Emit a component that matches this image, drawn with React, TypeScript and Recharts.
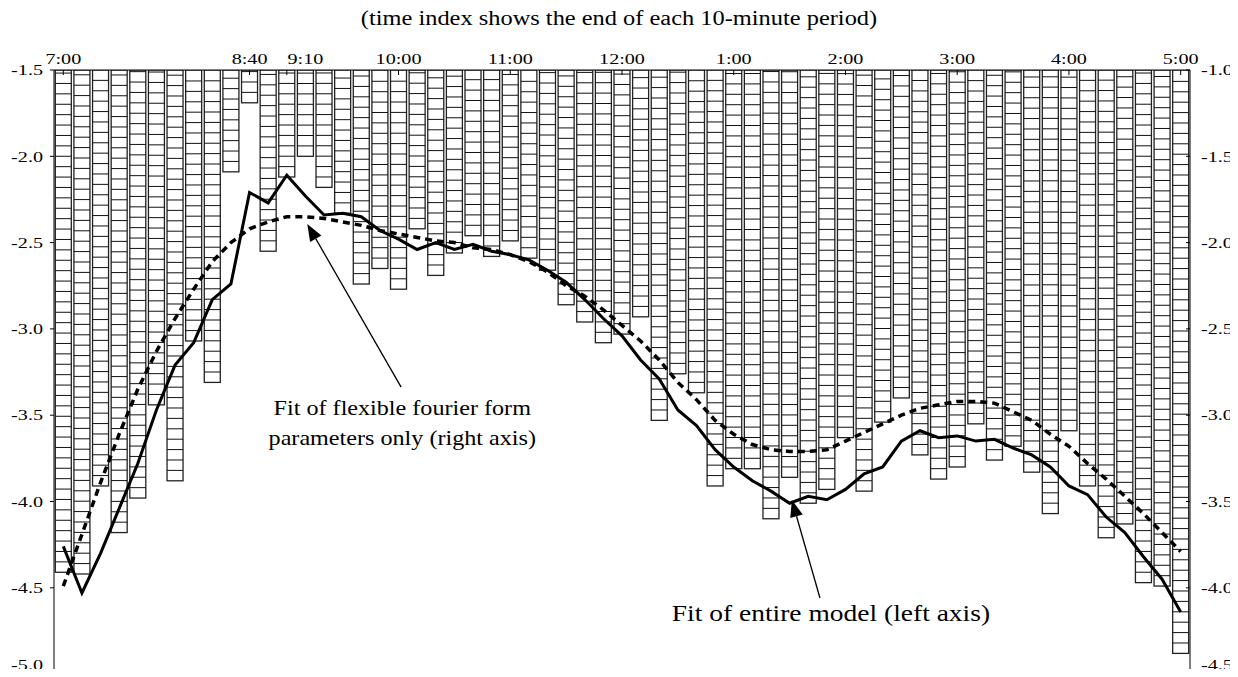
import React from 'react';
import { ComposedChart, Bar, Line, XAxis, YAxis, ReferenceLine, ReferenceDot } from 'recharts';

// bar values (left axis), one per 10-minute period, 7:00 .. 5:00
const bars = [
  -4.41, -4.42, -3.91, -4.18, -3.98, -3.44, -3.88, -3.07, -3.31, -2.09,
  -1.69, -2.55, -2.12, -2.00, -2.18, -2.33, -2.74, -2.65, -2.77, -2.42,
  -2.69, -2.56, -2.46, -2.58, -2.49, -2.59, -2.66, -2.86, -2.96, -3.08,
  -3.03, -2.93, -3.53, -3.26, -3.37, -3.91, -3.81, -3.81, -4.10, -3.86,
  -4.01, -3.93, -3.63, -3.94, -3.54, -3.40, -3.73, -3.87, -3.80, -3.55,
  -3.76, -3.68, -3.83, -4.07, -3.59, -3.91, -4.21, -4.13, -4.47, -4.49,
  -4.88,
];

// fit of entire model (left axis)
const fullModel = [
  -4.26, -4.53, -4.30, -4.04, -3.78, -3.47, -3.21, -3.08, -2.83, -2.74,
  -2.21, -2.27, -2.11, -2.23, -2.34, -2.33, -2.35, -2.43, -2.48, -2.54,
  -2.50, -2.54, -2.51, -2.55, -2.57, -2.60, -2.66, -2.73, -2.83, -2.94,
  -3.04, -3.18, -3.29, -3.47, -3.56, -3.70, -3.80, -3.88, -3.94, -4.01,
  -3.97, -3.99, -3.93, -3.84, -3.80, -3.65, -3.59, -3.63, -3.62, -3.65,
  -3.64, -3.69, -3.73, -3.80, -3.91, -3.96, -4.09, -4.18, -4.32, -4.45,
  -4.64,
];

// fit of flexible fourier form parameters only (right axis)
const fourierFit = [
  -3.99, -3.69, -3.39, -3.11, -2.85, -2.63, -2.44, -2.27, -2.11, -2.00,
  -1.92, -1.88, -1.85, -1.85, -1.86, -1.88, -1.90, -1.93, -1.95, -1.97,
  -1.99, -2.00, -2.03, -2.04, -2.07, -2.11, -2.17, -2.25, -2.31, -2.39,
  -2.48, -2.57, -2.68, -2.81, -2.91, -3.03, -3.11, -3.17, -3.20, -3.21,
  -3.21, -3.20, -3.15, -3.10, -3.05, -3.00, -2.96, -2.94, -2.92, -2.92,
  -2.93, -2.98, -3.03, -3.11, -3.18, -3.28, -3.37, -3.47, -3.57, -3.68,
  -3.79,
];

// category-axis tick marks and labels (period index -> text)
const markIdx = [0, 10, 12, 18, 24, 30, 36, 42, 48, 54, 60];
const labelIdx = [0, 10, 13, 18, 24, 30, 36, 42, 48, 54, 60];
const labelText = ['7:00', '8:40', '9:10', '10:00', '11:00', '12:00', '1:00', '2:00', '3:00', '4:00', '5:00'];
const axisTicks = [0, 10, 12, 13, 18, 24, 30, 36, 42, 48, 54, 60];
const leftTicks = [-5.0, -4.5, -4.0, -3.5, -3.0, -2.5, -2.0, -1.5];
const rightTicks = [-4.5, -4.0, -3.5, -3.0, -2.5, -2.0, -1.5, -1.0];

const titleText = '(time index shows the end of each 10-minute period)';
const note1 = ['Fit of flexible fourier form', 'parameters only (right axis)'];
const note2 = 'Fit of entire model (left axis)';

const data = bars.map((b, i) => ({ i, bar: b, full: fullModel[i], fourier: fourierFit[i] }));

const FONT = '"Liberation Serif", "Times New Roman", Times, serif';
const STEP = 10.4;
const LABEL_MAX_Y = 665;

function SText(props: any) {
  const { x, y, anchor = 'middle', size = 15.5, sx = 1.3, dy = 0, children } = props;
  return (
    <text
      transform={`translate(${x},${y}) scale(${sx},1)`}
      x={0}
      y={0}
      dy={dy}
      textAnchor={anchor}
      fontFamily={FONT}
      fontSize={size}
      fill="#000"
    >
      {children}
    </text>
  );
}

const TopTick = (p: any) => {
  const v = Number(p.payload.value);
  const k = labelIdx.indexOf(v);
  const hasMark = markIdx.indexOf(v) >= 0;
  return (
    <g>
      {hasMark ? <line x1={p.x} x2={p.x} y1={p.y + 6} y2={p.y + 11} stroke="#000" strokeWidth={1} /> : null}
      {k >= 0 ? (
        <SText x={p.x} y={p.y} anchor="middle">
          {labelText[k]}
        </SText>
      ) : null}
    </g>
  );
};

const LeftTick = (p: any) => (
  <SText x={p.x} y={Math.min(p.y, LABEL_MAX_Y)} anchor="end" dy="0.34em">
    {Number(p.payload.value).toFixed(1)}
  </SText>
);

const RightTick = (p: any) => (
  <SText x={p.x} y={Math.min(p.y, LABEL_MAX_Y)} anchor="start" dy="0.34em">
    {Number(p.payload.value).toFixed(1)}
  </SText>
);

const StripedBar = (p: any) => {
  const { x, y, width, height } = p;
  if (x == null || y == null || width == null || height == null) return null;
  const top = Math.min(y, y + height);
  const h = Math.abs(height);
  const bottom = top + h;
  const lines = [];
  for (let yy = bottom - STEP; yy > top + 1.5; yy -= STEP) {
    lines.push(<line key={yy} x1={x} x2={x + width} y1={yy} y2={yy} stroke="#111" strokeWidth={1} />);
  }
  return (
    <g>
      <rect x={x} y={top} width={width} height={h} fill="#fff" stroke="#222" strokeWidth={1.3} />
      {lines}
    </g>
  );
};

const Arrow = (p: any) => {
  const { x1, y1, x2, y2 } = p;
  const dx = x2 - x1;
  const dy = y2 - y1;
  const len = Math.hypot(dx, dy) || 1;
  const ux = dx / len;
  const uy = dy / len;
  const hl = 17;
  const hw = 6.5;
  const bx = x2 - ux * hl;
  const by = y2 - uy * hl;
  const pts = `${x2},${y2} ${bx - uy * hw},${by + ux * hw} ${bx + uy * hw},${by - ux * hw}`;
  return (
    <g>
      <line x1={x1} y1={y1} x2={bx} y2={by} stroke="#000" strokeWidth={1.3} />
      <polygon points={pts} fill="#000" />
    </g>
  );
};

const noteShape = (text: string, size: number, sx: number) => (p: any) => (
  <SText x={p.cx} y={p.cy} anchor="middle" size={size} sx={sx}>
    {text}
  </SText>
);

export default function App() {
  return (
    <div style={{ margin: -8, width: 1238, height: 677, position: 'relative', background: '#fff', overflow: 'hidden' }}>
      <div
        style={{
          position: 'absolute',
          left: 169,
          top: 6,
          width: 900,
          textAlign: 'center',
          fontFamily: FONT,
          fontSize: 20,
          lineHeight: '24px',
          transform: 'scaleX(1.22)',
          color: '#000',
          zIndex: 2,
          whiteSpace: 'nowrap',
        }}
      >
        {titleText}
      </div>
      <ComposedChart
        width={1238}
        height={677}
        data={data}
        margin={{ top: 40, right: 0, bottom: 1, left: 0 }}
        barCategoryGap="7%"
      >
        <XAxis
          xAxisId="cat"
          dataKey="i"
          type="category"
          orientation="top"
          height={30}
          ticks={axisTicks}
          interval={0}
          tickSize={0}
          tickMargin={6}
          tick={TopTick}
          tickLine={false}
          axisLine={{ stroke: '#000' }}
        />
        <XAxis xAxisId="n" dataKey="i" type="number" domain={[-0.5, 60.5]} allowDataOverflow hide />
        <YAxis
          yAxisId="left"
          orientation="left"
          width={54}
          type="number"
          domain={[-5.011, -1.5]}
          ticks={leftTicks}
          allowDataOverflow
          interval={0}
          tickSize={4}
          tickMargin={7}
          tick={LeftTick}
          axisLine={{ stroke: '#000' }}
          tickLine={{ stroke: '#000' }}
        />
        <YAxis
          yAxisId="right"
          orientation="right"
          width={48}
          type="number"
          domain={[-4.511, -1.0]}
          ticks={rightTicks}
          allowDataOverflow
          interval={0}
          tickSize={-4}
          tickMargin={15}
          tick={RightTick}
          axisLine={{ stroke: '#000' }}
          tickLine={{ stroke: '#000' }}
        />
        <Bar xAxisId="cat" yAxisId="left" dataKey="bar" shape={StripedBar} isAnimationActive={false} />
        <Line
          xAxisId="cat"
          yAxisId="right"
          dataKey="fourier"
          type="linear"
          stroke="#000"
          strokeWidth={3.5}
          strokeDasharray="7 5"
          dot={false}
          activeDot={false}
          isAnimationActive={false}
        />
        <Line
          xAxisId="cat"
          yAxisId="left"
          dataKey="full"
          type="linear"
          stroke="#000"
          strokeWidth={3}
          dot={false}
          activeDot={false}
          isAnimationActive={false}
        />
        <ReferenceLine
          xAxisId="n"
          yAxisId="left"
          segment={[{ x: 18.14, y: -3.337 }, { x: 13.1, y: -2.392 }]}
          shape={Arrow}
          ifOverflow="visible"
        />
        <ReferenceLine
          xAxisId="n"
          yAxisId="left"
          segment={[{ x: 40.63, y: -4.559 }, { x: 39.12, y: -3.991 }]}
          shape={Arrow}
          ifOverflow="visible"
        />
        <ReferenceDot xAxisId="n" yAxisId="left" x={18.2} y={-3.499} r={0} shape={noteShape(note1[0], 21, 1.15)} ifOverflow="visible" />
        <ReferenceDot xAxisId="n" yAxisId="left" x={18.2} y={-3.670} r={0} shape={noteShape(note1[1], 21, 1.15)} ifOverflow="visible" />
        <ReferenceDot xAxisId="n" yAxisId="left" x={41.22} y={-4.692} r={0} shape={noteShape(note2, 23.5, 1.17)} ifOverflow="visible" />
      </ComposedChart>
    </div>
  );
}
